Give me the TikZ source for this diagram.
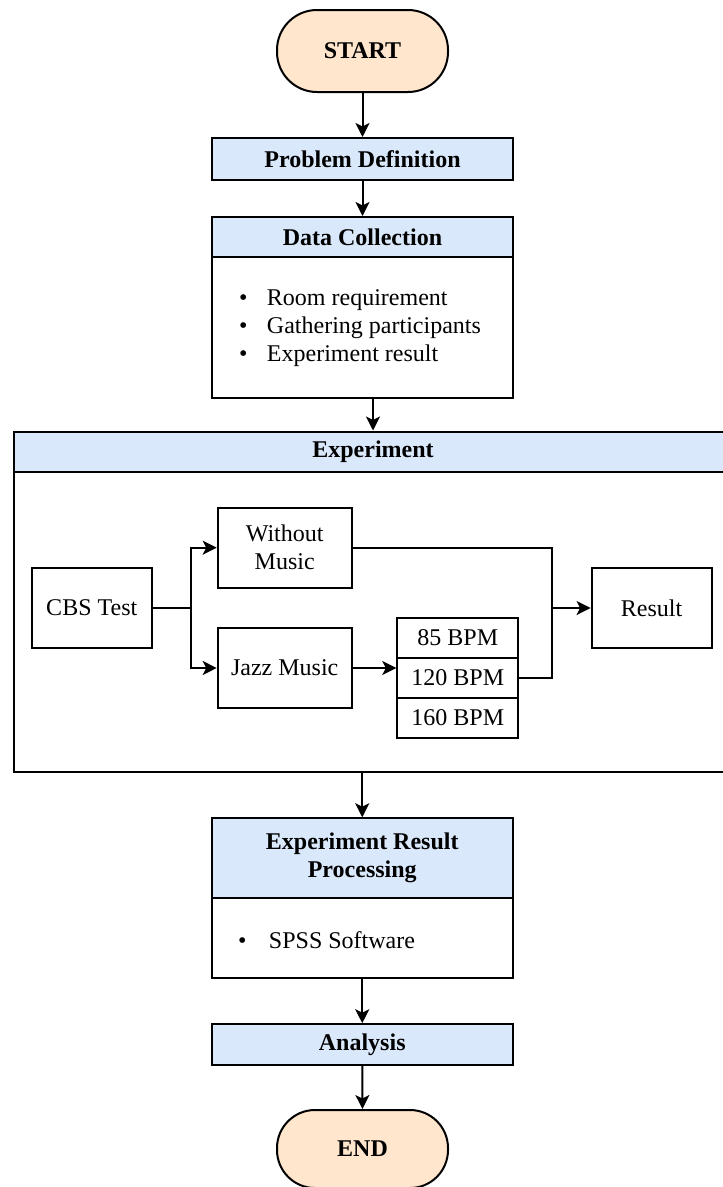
\documentclass[tikz,border=0pt]{standalone}
\usepackage{fontspec}
\setmainfont{Liberation Serif}
\usetikzlibrary{arrows.meta}
\definecolor{peach}{HTML}{FFE6CC}
\definecolor{hblue}{HTML}{DAE8FC}
\begin{document}
\begin{tikzpicture}[x=1pt,y=-1pt,
  every node/.style={font=\fontsize{24}{28}\selectfont, inner sep=0pt, line width=2pt, draw=black, align=center},
  term/.style={fill=peach, rounded corners=40pt, minimum width=171pt, minimum height=82pt, font=\fontsize{24}{28}\selectfont\bfseries},
  head/.style={fill=hblue, font=\fontsize{24}{28}\selectfont\bfseries},
  plain/.style={fill=white},
  txt/.style={draw=none, align=left},
  arr/.style={line width=2pt, -{Stealth[length=14pt,width=14pt,inset=3.5pt]}},
  ln/.style={line width=2pt}]
\useasboundingbox (0,0) rectangle (723,1187);
\clip (0,0) rectangle (723,1187);
\fill[white] (0,0) rectangle (723,1187);

% top column
\node[term] (start) at (362.5,51) {START};
\node[head, minimum width=301pt, minimum height=42pt] (pd) at (362.5,159) {Problem Definition};
\node[head, minimum width=301pt, minimum height=40pt] (dch) at (362.5,237) {Data Collection};
\node[plain, minimum width=301pt, minimum height=141pt] (dcb) at (362.5,327.5) {};
\node[txt, anchor=west] (dct) at (238,328) {\makebox[28pt][l]{\textbullet}Room requirement\\\makebox[28pt][l]{\textbullet}Gathering participants\\\makebox[28pt][l]{\textbullet}Experiment result};

% experiment container
\node[head, minimum width=719pt, minimum height=40pt] (exph) at (373,451.5) {Experiment};
\node[plain, minimum width=719pt, minimum height=300.5pt] (expb) at (373,621.75) {};

\node[plain, minimum width=120.5pt, minimum height=80pt] (cbs) at (91.75,608) {CBS Test};
\node[plain, minimum width=134pt, minimum height=80pt] (wm) at (284.7,547.7) {Without\\Music};
\node[plain, minimum width=134pt, minimum height=80pt] (jazz) at (284.7,668) {Jazz Music};
\node[plain, minimum width=121pt, minimum height=40pt] (b85) at (457.8,638) {85 BPM};
\node[plain, minimum width=121pt, minimum height=40pt] (b120) at (457.8,678) {120 BPM};
\node[plain, minimum width=121pt, minimum height=40pt] (b160) at (457.8,718) {160 BPM};
\node[plain, minimum width=120pt, minimum height=80pt] (result) at (651.6,608) {Result};

\coordinate (sp) at (191.3,608);
\coordinate (mg) at (552,608);
\draw[ln] (cbs.east) -- (sp);
\draw[arr] (sp) |- (wm.west);
\draw[arr] (sp) |- (jazz.west);
\draw[arr] (jazz.east) -- (jazz.east -| b120.west);
\draw[ln] (wm.east) -| (mg);
\draw[ln] (b120.east) -| (mg);
\draw[arr] (mg) -- (result.west);

% bottom column
\node[head, minimum width=301pt, minimum height=79.5pt] (erh) at (362.25,858) {Experiment Result\\Processing};
\node[plain, minimum width=301pt, minimum height=80.5pt] (erb) at (362.25,938) {};
\node[txt, anchor=west] (ert) at (237,940) {\makebox[31pt][l]{\textbullet}SPSS Software};
\node[head, minimum width=301pt, minimum height=41pt] (an) at (362.25,1044.7) {Analysis};
\node[term, minimum height=78pt, rounded corners=38pt] (end) at (362.5,1149) {END};

% main arrows
\draw[arr] (start.south) -- (pd.north);
\draw[arr] (pd.south) -- (dch.north);
\draw[arr] (exph.north |- dcb.south) -- (exph.north);
\draw[arr] (erh.north |- expb.south) -- (erh.north);
\draw[arr] (erb.south) -- (an.north);
\draw[arr] (an.south) -- (end.north);
\end{tikzpicture}
\end{document}
